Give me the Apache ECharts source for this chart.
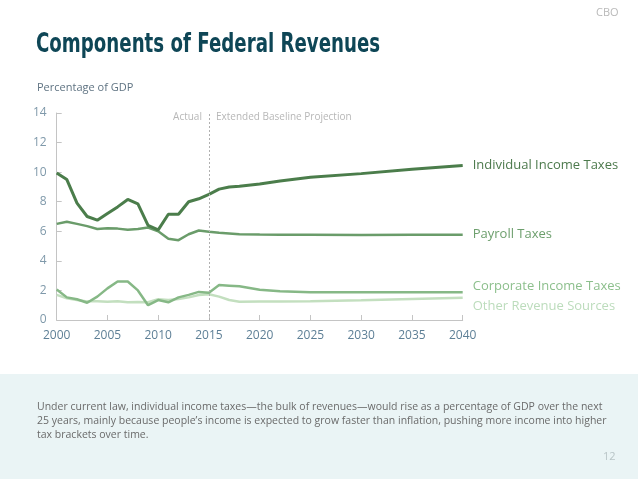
<!DOCTYPE html>
<html><head><meta charset="utf-8">
<script src="https://cdn.jsdelivr.net/npm/echarts@6/dist/echarts.min.js"></script>
<style>html,body{margin:0;padding:0;background:#fff}#c{width:638px;height:479px}</style>
</head><body><div id="c"></div>
<script>
const years = [2000,2001,2002,2003,2004,2005,2006,2007,2008,2009,2010,2011,2012,2013,2014,2015,2016,2017,2018,2020,2022,2025,2030,2035,2040];
const individual = [9.95,9.5,7.9,7.0,6.75,7.2,7.65,8.15,7.85,6.4,6.1,7.15,7.15,8.0,8.2,8.5,8.85,9.0,9.05,9.2,9.4,9.65,9.9,10.2,10.45];
const payroll = [6.5,6.65,6.5,6.35,6.15,6.2,6.18,6.1,6.15,6.25,6.0,5.5,5.4,5.8,6.05,5.97,5.9,5.85,5.8,5.78,5.77,5.76,5.75,5.76,5.77];
const corporate = [2.07,1.53,1.4,1.17,1.58,2.14,2.6,2.6,2.0,1.0,1.35,1.2,1.53,1.7,1.9,1.85,2.36,2.32,2.28,2.05,1.94,1.88,1.87,1.87,1.87];
const other = [1.7,1.47,1.35,1.26,1.26,1.24,1.26,1.2,1.22,1.2,1.4,1.35,1.42,1.53,1.69,1.74,1.58,1.35,1.24,1.25,1.25,1.26,1.33,1.42,1.5];
const seriesNames = ['Individual Income Taxes','Payroll Taxes','Corporate Income Taxes','Other Revenue Sources'];
const xTicks = {min:2000,max:2040,interval:5};
const yTicks = {min:0,max:14,interval:2};

const pair = arr => years.map((y,i)=>[y,arr[i]]);
const chart = echarts.init(document.getElementById('c'),null,{renderer:'canvas'});
const font = '"Open Sans", "DejaVu Sans", sans-serif';
function mk(name,data,color,width,labelColor,offY,z){
  return {type:'line',name,data:pair(data),symbol:'none',z,
    lineStyle:{color,width},
    endLabel:{show:true,formatter:name,color:labelColor,fontSize:13,fontFamily:font,distance:10,offset:[0,offY]}};
}
chart.setOption({
  animation:false,
  grid:{left:56.7,right:175.3,top:113,bottom:159},
  graphic:[
    {type:'rect',shape:{x:0,y:374,width:638,height:105},style:{fill:'#eaf4f5'},z:-10},
    {type:'text',left:596,top:7,style:{text:'CBO',fill:'#b9b9b9',font:'11px '+font}},
    {type:'text',x:36,y:32,scaleX:0.70,originX:0,originY:0,style:{text:'Components of Federal Revenues',fill:'#0e4656',font:'bold 26px "DejaVu Sans", sans-serif'}},
    {type:'text',left:37,top:82,style:{text:'Percentage of GDP',fill:'#5f7382',font:'11px '+font}},
    {type:'text',left:37,top:400,style:{text:'Under current law, individual income taxes\u2014the bulk of revenues\u2014would rise as a percentage of GDP over the next\n25 years, mainly because people\u2019s income is expected to grow faster than inflation, pushing more income into higher\ntax brackets over time.',fill:'#6a6a6a',font:'10.5px '+font,lineHeight:14}},
    {type:'text',left:603,top:451,style:{text:'12',fill:'#b8c4c6',font:'11px '+font}}
  ],
  xAxis:{type:'value',min:xTicks.min,max:xTicks.max,interval:xTicks.interval,
    axisLine:{lineStyle:{color:'#c4c4c4'}},axisTick:{inside:true,length:5,lineStyle:{color:'#c4c4c4'}},
    splitLine:{show:false},
    axisLabel:{color:'#5d7f96',fontSize:12,fontFamily:font,margin:10,formatter:v=>String(v)}},
  yAxis:{type:'value',min:yTicks.min,max:yTicks.max,interval:yTicks.interval,
    axisLine:{show:true,lineStyle:{color:'#c4c4c4'}},axisTick:{show:true,inside:true,length:5,lineStyle:{color:'#c4c4c4'}},
    splitLine:{show:false},
    axisLabel:{color:'#7f99aa',fontSize:12,fontFamily:font,margin:10}},
  series:[
    mk(seriesNames[3],other,'#c3dfbf',2.5,'#bcdcbc',8,1),
    mk(seriesNames[2],corporate,'#86b886',2.5,'#8cbf8c',-6,2),
    mk(seriesNames[1],payroll,'#6a9c6a',2.5,'#6d9f6d',0,3),
    Object.assign(mk(seriesNames[0],individual,'#4b7d4b',3,'#4d7a4d',0,4),{
      markLine:{silent:true,symbol:'none',label:{show:false},
        lineStyle:{color:'#b0b0b0',type:[2,2],width:1},
        data:[[{coord:[2015,0]},{coord:[2015,14]}]]}}),
    {type:'scatter',data:[[2015,14]],symbolSize:0,
      label:{show:true,position:'left',formatter:'Actual',color:'#a5a5a5',fontSize:10,fontFamily:font,offset:[-2,4]}},
    {type:'scatter',data:[[2015,14]],symbolSize:0,
      label:{show:true,position:'right',formatter:'Extended Baseline Projection',color:'#a5a5a5',fontSize:10,fontFamily:font,offset:[2,4]}}
  ]
});
</script></body></html>
